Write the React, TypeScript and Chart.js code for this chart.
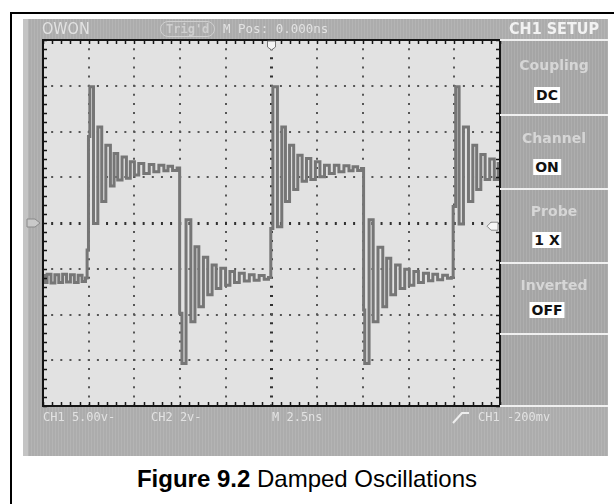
import React, { useEffect, useRef } from "react";
import { Chart, registerables } from "chart.js";

Chart.register(...registerables);

// Sample positions of the CH1 trace, in horizontal divisions (M 2.5ns / div)
const timeDiv = [
  0.0, 0.05, 0.13, 0.22, 0.3, 0.39, 0.47, 0.56, 0.64, 0.73, 0.81, 0.9, 0.96,
  0.97, 0.99, 1.0, 1.02, 1.03, 1.06, 1.15, 1.25, 1.32, 1.43, 1.52, 1.59, 1.68, 1.78, 1.87, 1.95, 2.05, 2.14, 2.27, 2.38, 2.47, 2.6, 2.69, 2.78, 2.89, 2.98,
  3.0, 3.03, 3.05, 3.08, 3.18, 3.29, 3.36, 3.46, 3.56, 3.65, 3.75, 3.83, 3.95, 4.04, 4.14, 4.24, 4.35, 4.46, 4.57, 4.67, 4.79, 4.89, 4.98,
  4.99, 5.02, 5.04, 5.07, 5.19, 5.26, 5.35, 5.44, 5.53, 5.62, 5.72, 5.81, 5.91, 6.01, 6.11, 6.21, 6.32, 6.43, 6.52, 6.65, 6.74, 6.83, 6.94, 7.0,
  7.03, 7.05, 7.09, 7.18, 7.27, 7.39, 7.48, 7.56, 7.66, 7.77, 7.86, 7.97, 8.06, 8.17, 8.26, 8.39, 8.48, 8.58, 8.69, 8.8, 8.9, 8.97,
  8.98, 9.02, 9.04, 9.07, 9.14, 9.26, 9.36, 9.45, 9.53, 9.63, 9.72, 9.83, 9.92, 10.0,
];

// Trace level at each sample, in vertical divisions (0 = CH1 ground marker)
const levelDiv = [
  -1.15, -1.3, -1.12, -1.31, -1.13, -1.3, -1.12, -1.29, -1.13, -1.3, -1.14, -1.28, -1.2,
  -0.59, -0.59, 1.89, 1.89, 2.98, 2.98, -0.01, 2.1, 0.47, 1.7, 0.81, 1.52, 0.94, 1.44, 0.98, 1.34, 1.05, 1.3, 1.08, 1.28, 1.12, 1.26, 1.14, 1.24, 1.15, 1.2,
  -1.97, -1.97, -3.07, -3.07, 0.07, -2.16, -0.52, -1.83, -0.75, -1.57, -0.92, -1.43, -0.99, -1.36, -1.06, -1.3, -1.1, -1.27, -1.13, -1.25, -1.15, -1.23, -1.19,
  -0.12, -0.12, 2.98, 2.98, -0.08, 2.1, 0.47, 1.7, 0.73, 1.48, 0.91, 1.41, 0.95, 1.34, 1.01, 1.26, 1.08, 1.26, 1.12, 1.25, 1.14, 1.23, 1.15, 1.19,
  -1.9, -3.07, -3.07, 0.07, -2.16, -0.53, -1.83, -0.77, -1.57, -0.92, -1.43, -1.01, -1.36, -1.06, -1.3, -1.1, -1.26, -1.12, -1.24, -1.14, -1.21, -1.19,
  0.36, 0.36, 2.98, 2.98, -0.02, 2.1, 0.47, 1.7, 0.73, 1.5, 0.95, 1.4, 0.95, 1.3,
];

const xDivRange = [0, 10];
const yDivRange = [-4, 4];
const triggerPosDiv = 5;
const triggerLevelDiv = -0.07;
const channelZeroDiv = 0;

const brandText = "OWON";
const trigText = "Trig'd";
const posText = "M Pos: 0.000ns";
const menuTitle = "CH1 SETUP";
const menuLabels = ["Coupling", "Channel", "Probe", "Inverted"];
const menuValues = ["DC", "ON", "1 X", "OFF"];
const bottomStatus = ["CH1 5.00v-", "CH2 2v-", "M 2.5ns", "CH1 -200mv"];
const captionBold = "Figure 9.2";
const captionRest = " Damped Oscillations";

const scopePlugin = {
  id: "scopeFrame",
  beforeDraw(chart: any) {
    const { ctx, chartArea: a } = chart;
    ctx.save();
    ctx.fillStyle = "#e2e2e2";
    ctx.fillRect(a.left, a.top, a.right - a.left, a.bottom - a.top);
    ctx.restore();
  },
  afterDraw(chart: any) {
    const { ctx, chartArea: a, scales } = chart;
    const xs = scales.x;
    const ys = scales.y;
    ctx.save();
    ctx.strokeStyle = "#151515";
    ctx.lineWidth = 2;
    ctx.strokeRect(a.left, a.top, a.right - a.left, a.bottom - a.top);
    ctx.lineWidth = 1.5;
    ctx.beginPath();
    for (let i = xDivRange[0] * 5; i <= xDivRange[1] * 5; i++) {
      const px = Math.round(xs.getPixelForValue(i / 5)) + 0.5;
      ctx.moveTo(px, a.top);
      ctx.lineTo(px, a.top + 4);
      ctx.moveTo(px, a.bottom);
      ctx.lineTo(px, a.bottom - 4);
    }
    for (let i = yDivRange[0] * 5; i <= yDivRange[1] * 5; i++) {
      const py = Math.round(ys.getPixelForValue(i / 5)) + 0.5;
      ctx.moveTo(a.left, py);
      ctx.lineTo(a.left + 4, py);
      ctx.moveTo(a.right, py);
      ctx.lineTo(a.right - 4, py);
    }
    ctx.stroke();

    // trigger position marker (top)
    const tx = xs.getPixelForValue(triggerPosDiv);
    ctx.fillStyle = "#f4f4f4";
    ctx.strokeStyle = "#777";
    ctx.lineWidth = 1;
    ctx.beginPath();
    ctx.moveTo(tx - 4, a.top + 1);
    ctx.lineTo(tx + 4, a.top + 1);
    ctx.lineTo(tx + 4, a.top + 7);
    ctx.lineTo(tx, a.top + 10);
    ctx.lineTo(tx - 4, a.top + 7);
    ctx.closePath();
    ctx.fill();
    ctx.stroke();

    // channel zero marker (left)
    const cy = ys.getPixelForValue(channelZeroDiv);
    ctx.fillStyle = "#c9c9c9";
    ctx.strokeStyle = "#8a8a8a";
    ctx.beginPath();
    ctx.moveTo(a.left - 16, cy - 4);
    ctx.lineTo(a.left - 8, cy - 4);
    ctx.lineTo(a.left - 3, cy);
    ctx.lineTo(a.left - 8, cy + 4);
    ctx.lineTo(a.left - 16, cy + 4);
    ctx.closePath();
    ctx.fill();
    ctx.stroke();

    // trigger level marker (right)
    const ly = ys.getPixelForValue(triggerLevelDiv);
    ctx.fillStyle = "#f6f6f6";
    ctx.strokeStyle = "#8a8a8a";
    ctx.beginPath();
    ctx.moveTo(a.right - 2, ly - 4);
    ctx.lineTo(a.right - 9, ly - 4);
    ctx.lineTo(a.right - 13, ly);
    ctx.lineTo(a.right - 9, ly + 4);
    ctx.lineTo(a.right - 2, ly + 4);
    ctx.closePath();
    ctx.fill();
    ctx.stroke();
    ctx.restore();
  },
};

const lightText = "#e2e2e2";
const monoFont = '"DejaVu Sans Mono", "Liberation Mono", monospace';
const condFont = '"DejaVu Sans Condensed", "DejaVu Sans", sans-serif';

function Txt(props: { x: number; y: number; children: React.ReactNode; style?: React.CSSProperties; center?: boolean }) {
  return (
    <div
      style={{
        position: "absolute",
        left: props.x,
        top: props.y,
        transform: props.center ? "translate(-50%, -50%)" : "translateY(-50%)",
        whiteSpace: "nowrap",
        lineHeight: 1,
        zIndex: 3,
        ...props.style,
      }}
    >
      {props.children}
    </div>
  );
}

export default function App() {
  const ref = useRef<HTMLCanvasElement>(null);

  useEffect(() => {
    const isEdgeX = (v: number) => v === xDivRange[0] || v === xDivRange[1];
    const isEdgeY = (v: number) => v === yDivRange[0] || v === yDivRange[1];
    const chart = new Chart(ref.current as HTMLCanvasElement, {
      type: "line",
      data: {
        datasets: [
          {
            data: timeDiv.map((t, i) => ({ x: t, y: levelDiv[i] })),
            borderColor: "#767676",
            borderWidth: 3,
            pointRadius: 0,
            stepped: "middle",
            fill: false,
          },
        ],
      },
      options: {
        responsive: false,
        animation: false,
        events: [],
        layout: { padding: { left: 20, top: 21, right: 108, bottom: 51 } },
        plugins: { legend: { display: false }, tooltip: { enabled: false } },
        scales: {
          x: {
            type: "linear",
            min: xDivRange[0],
            max: xDivRange[1],
            ticks: { display: false, stepSize: 1 },
            grid: {
              drawTicks: false,
              color: (c: any) => (isEdgeX(c.tick.value) ? "rgba(0,0,0,0)" : c.tick.value === triggerPosDiv ? "#303030" : "#555"),
              lineWidth: (c: any) => (c.tick.value === triggerPosDiv ? 3 : 2),
            },
            border: { display: false, dash: [2, 7.14], dashOffset: 1 },
          },
          y: {
            type: "linear",
            min: yDivRange[0],
            max: yDivRange[1],
            ticks: { display: false, stepSize: 1 },
            grid: {
              drawTicks: false,
              color: (c: any) => (isEdgeY(c.tick.value) ? "rgba(0,0,0,0)" : c.tick.value === 0 ? "#303030" : "#555"),
              lineWidth: (c: any) => (c.tick.value === 0 ? 3 : 2),
            },
            border: { display: false, dash: [2, 7.15], dashOffset: 1 },
          },
        },
      },
      plugins: [scopePlugin],
    } as any);
    return () => chart.destroy();
  }, []);

  const stripes = "repeating-linear-gradient(90deg, #acacac 0px, #acacac 2px, #b4b4b4 2px, #b4b4b4 3px)";
  const panelStripes = "repeating-linear-gradient(90deg, #a5a5a5 0px, #a5a5a5 2px, #aeaeae 2px, #aeaeae 3px)";
  const separators = [39, 114, 188, 262, 333, 405];
  const labelY = [65, 138, 211, 285];
  const valueY = [95, 167, 240, 310];

  return (
    <div style={{ position: "absolute", left: 0, top: 0, width: 614, height: 504, background: "#fff", overflow: "hidden" }}>
      {/* figure frame */}
      <div style={{ position: "absolute", left: 10, top: 12, width: 604, height: 2, background: "#000" }} />
      <div style={{ position: "absolute", left: 10, top: 12, width: 2, height: 492, background: "#000" }} />
      {/* screen */}
      <div style={{ position: "absolute", left: 23, top: 19, width: 585, height: 437, background: stripes }} />
      <div style={{ position: "absolute", left: 23, top: 19, width: 5, height: 437, background: "#c4c4c4" }} />
      <div style={{ position: "absolute", left: 500, top: 40, width: 108, height: 366, background: panelStripes }} />
      {separators.map((y, i) => (
        <div key={"s" + i} style={{ position: "absolute", left: 500, top: y, width: 108, height: 2, background: "#f0f0f0", zIndex: 2 }} />
      ))}
      <canvas ref={ref} width={585} height={438} style={{ position: "absolute", left: 23, top: 19, zIndex: 1 }} />

      {/* top status bar */}
      <Txt x={42} y={29} style={{ fontFamily: condFont, fontSize: 16, color: lightText }}>{brandText}</Txt>
      <Txt
        x={160}
        y={29}
        style={{
          fontFamily: monoFont,
          fontSize: 12,
          fontWeight: "bold",
          color: "#cfcfcf",
          border: "1.5px solid #cfcfcf",
          borderRadius: 8,
          padding: "1px 5px",
        }}
      >
        {trigText}
      </Txt>
      <Txt x={223} y={29} style={{ fontFamily: monoFont, fontSize: 12.5, color: lightText }}>{posText}</Txt>
      <Txt x={554} y={29} center style={{ fontFamily: condFont, fontSize: 16, fontWeight: "bold", color: "#f2f2f2" }}>{menuTitle}</Txt>

      {/* menu */}
      {menuLabels.map((l, i) => (
        <Txt key={"l" + i} x={554} y={labelY[i]} center style={{ fontFamily: '"DejaVu Sans", sans-serif', fontSize: 14, fontWeight: "bold", color: "#d6d6d6" }}>
          {l}
        </Txt>
      ))}
      {menuValues.map((v, i) => (
        <Txt
          key={"v" + i}
          x={547}
          y={valueY[i]}
          center
          style={{ fontFamily: '"DejaVu Sans", sans-serif', fontSize: 14, fontWeight: "bold", color: "#111", background: "#fff", padding: "1px 2px" }}
        >
          {v}
        </Txt>
      ))}

      {/* bottom status bar */}
      <Txt x={43} y={417} style={{ fontFamily: monoFont, fontSize: 12, color: lightText }}>{bottomStatus[0]}</Txt>
      <Txt x={151} y={417} style={{ fontFamily: monoFont, fontSize: 12, color: lightText }}>{bottomStatus[1]}</Txt>
      <Txt x={272} y={417} style={{ fontFamily: monoFont, fontSize: 12, color: lightText }}>{bottomStatus[2]}</Txt>
      <svg style={{ position: "absolute", left: 452, top: 410, zIndex: 3 }} width={18} height={14}>
        <polyline points="1,13 10,3 17,3" fill="none" stroke="#eeeeee" strokeWidth={2} />
      </svg>
      <Txt x={478} y={417} style={{ fontFamily: monoFont, fontSize: 12, color: lightText }}>{bottomStatus[3]}</Txt>

      {/* caption */}
      <Txt x={307} y={479} center style={{ fontFamily: '"Liberation Sans", Arial, sans-serif', fontSize: 24, color: "#000" }}>
        <b>{captionBold}</b>
        {captionRest}
      </Txt>
    </div>
  );
}
